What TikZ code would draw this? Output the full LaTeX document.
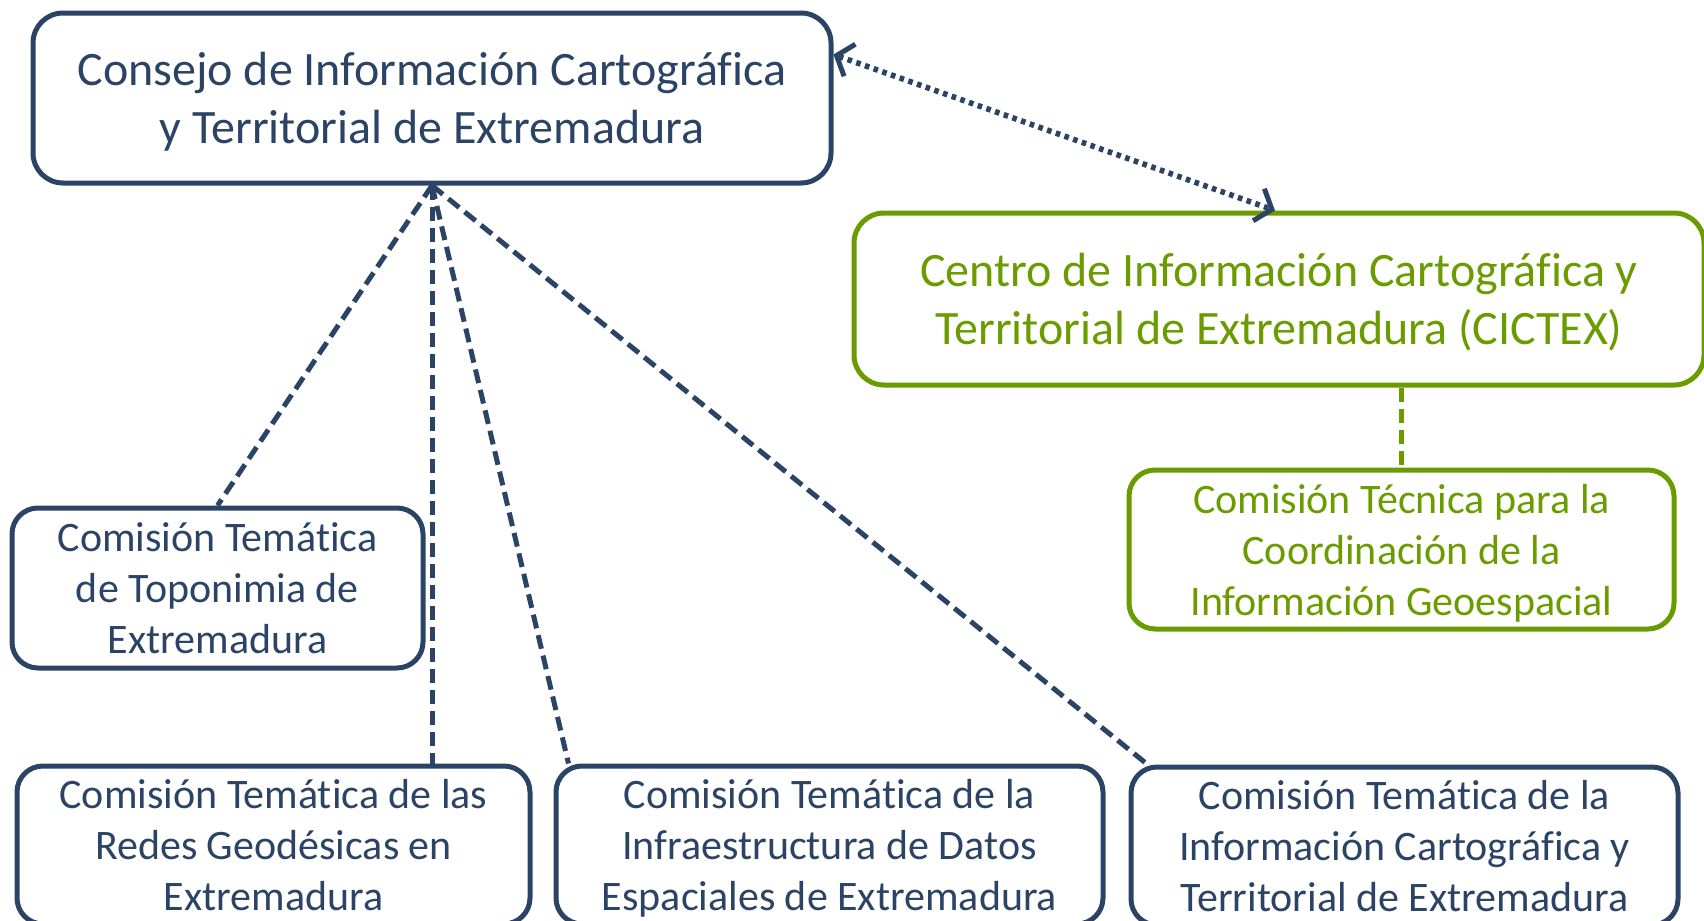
\documentclass[tikz,border=0pt]{standalone}
\usepackage{fontspec}
\setmainfont{Carlito}[Ligatures={NoCommon,NoContextual},Contextuals={NoAlternate}]
\usetikzlibrary{arrows.meta,calc}
\definecolor{navy}{HTML}{2B4465}
\definecolor{lgreen}{HTML}{6A9C00}
\newcommand{\lastln}[1]{\raisebox{0pt}[\height][0pt]{#1}}
\begin{document}
\begin{tikzpicture}[x=0.5pt,y=-0.5pt,
  box/.style={draw=navy, line width=2.5pt, rounded corners=13pt, align=center, text=navy, inner sep=0pt},
  gbox/.style={box, draw=lgreen, text=lgreen},
  big/.style={font=\fontsize{24}{29.3}\selectfont},
  small/.style={font=\fontsize{21}{25.5}\selectfont},
  link/.style={draw=navy, line width=2.5pt, dash pattern=on 7pt off 3.5pt},
  glink/.style={link, draw=lgreen},
  dots/.style={draw=navy, line width=2.8pt, dash pattern=on 2.3pt off 2.3pt,
    {Straight Barb[length=7pt,width=17pt,line width=2.5pt]}-{Straight Barb[length=7pt,width=17pt,line width=2.5pt]}}
]
\useasboundingbox (0,0) rectangle (1704,921);

\node[box,big, rounded corners=15pt, minimum width=399pt, minimum height=85pt] (top) at (432,98)
  {Consejo de Información Cartográfica\\\lastln{y Territorial de Extremadura}};
\node[gbox,big, rounded corners=15pt, minimum width=425pt, minimum height=86pt] (cictex) at (1279,299)
  {Centro de Información Cartográfica y\\\lastln{Territorial de Extremadura (CICTEX)}};
\node[gbox,small, minimum width=272.5pt, minimum height=79.5pt] (tec) at (1401.5,549.5)
  {Comisión Técnica para la\\Coordinación de la\\\lastln{Información Geoespacial}};
\node[box,small, minimum width=205.5pt, minimum height=80pt] (topo) at (217.5,588)
  {Comisión Temática\\de Toponimia de\\\lastln{Extremadura}};
\node[box,small, minimum width=256.5pt, minimum height=79pt] (redes) at (273.5,845)
  {Comisión Temática de las\\Redes Geodésicas en\\\lastln{Extremadura}};
\node[box,small, minimum width=273.5pt, minimum height=79pt] (ide) at (829.5,845)
  {Comisión Temática de la\\Infraestructura de Datos\\\lastln{Espaciales de Extremadura}};
\node[box,small, minimum width=273.5pt, minimum height=79pt] (icar) at (1404.5,846)
  {Comisión Temática de la\\Información Cartográfica y\\\lastln{Territorial de Extremadura}};

\draw[link] (top.south) -- (topo.north);
\draw[link] (top.south) -- (top.south |- redes.north);
\draw[link] (top.south) -- ([xshift=7.5pt]ide.north west);
\draw[link] (top.south) -- ([xshift=9.5pt]icar.north west);
\draw[glink] (cictex.south -| tec.north) -- (tec.north);
\draw[dots] ([yshift=-22pt]top.north east) -- ([xshift=-2pt]cictex.north);
\end{tikzpicture}
\end{document}
